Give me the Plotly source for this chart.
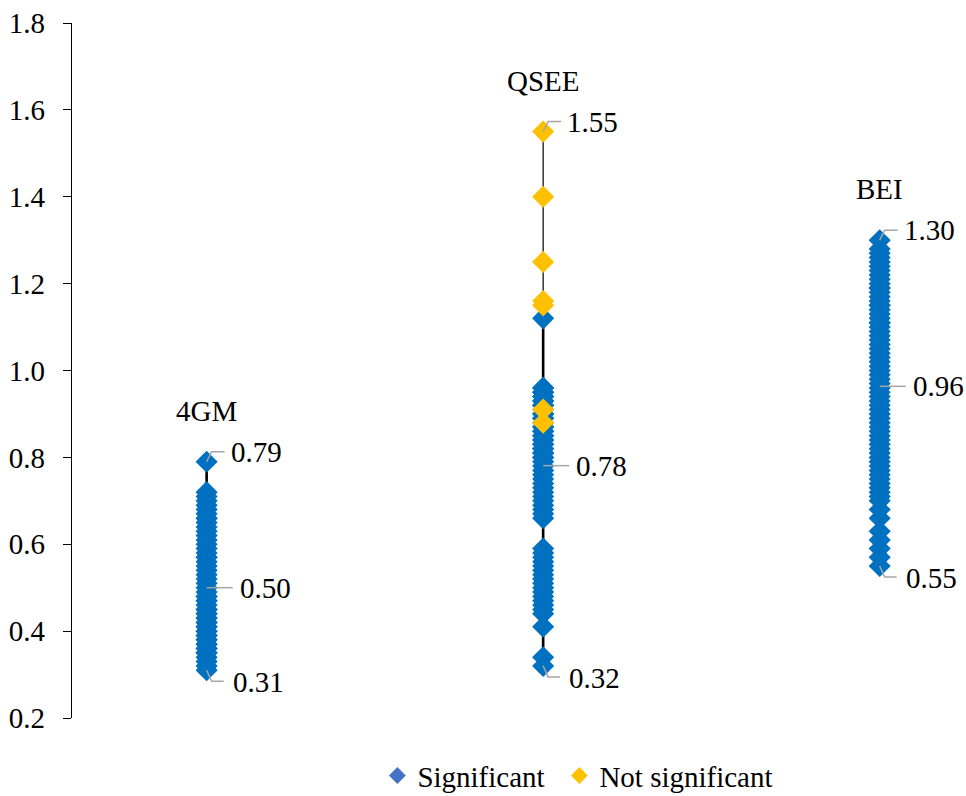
import plotly.graph_objects as go

# Categories and their point values
categories = ["4GM", "QSEE", "BEI"]

gm4_significant = [0.79, 0.72, 0.71, 0.70, 0.69, 0.68, 0.67, 0.66, 0.66, 0.65,
                   0.64, 0.63, 0.62, 0.61, 0.60, 0.59, 0.58, 0.57, 0.57, 0.56,
                   0.55, 0.54, 0.53, 0.52, 0.51, 0.50, 0.49, 0.48, 0.48, 0.47,
                   0.47, 0.46, 0.45, 0.45, 0.44, 0.44, 0.43, 0.43, 0.42, 0.42,
                   0.41, 0.41, 0.40, 0.40, 0.39, 0.39, 0.38, 0.38, 0.37, 0.37,
                   0.36, 0.36, 0.35, 0.35, 0.34, 0.33, 0.32, 0.31]
gm4_not_significant = []

qsee_significant = [1.12, 0.96, 0.96, 0.95, 0.95, 0.94, 0.94, 0.93, 0.93, 0.92,
                    0.92, 0.91, 0.90, 0.90, 0.89, 0.89, 0.88, 0.87, 0.87, 0.86,
                    0.86, 0.85, 0.85, 0.84, 0.84, 0.83, 0.83, 0.82, 0.82, 0.81,
                    0.81, 0.80, 0.80, 0.79, 0.78, 0.77, 0.76, 0.75, 0.74, 0.73,
                    0.72, 0.71, 0.70, 0.69, 0.68, 0.67, 0.66, 0.59, 0.58, 0.57,
                    0.56, 0.55, 0.54, 0.53, 0.52, 0.51, 0.50, 0.49, 0.48, 0.47,
                    0.46, 0.45, 0.44, 0.41, 0.34, 0.32]
qsee_not_significant = [1.55, 1.40, 1.25, 1.16, 1.15, 0.91, 0.88]

bei_significant = [1.30, 1.28, 1.27, 1.26, 1.25, 1.24, 1.23, 1.22, 1.21, 1.20,
                   1.19, 1.19, 1.18, 1.17, 1.16, 1.15, 1.15, 1.14, 1.13, 1.12,
                   1.11, 1.11, 1.10, 1.09, 1.08, 1.07, 1.06, 1.05, 1.04, 1.03,
                   1.02, 1.01, 1.00, 0.99, 0.98, 0.97, 0.96, 0.95, 0.94, 0.93,
                   0.92, 0.91, 0.90, 0.89, 0.88, 0.87, 0.86, 0.85, 0.84, 0.83,
                   0.82, 0.81, 0.80, 0.79, 0.78, 0.77, 0.76, 0.75, 0.74, 0.73,
                   0.72, 0.71, 0.70, 0.68, 0.66, 0.63, 0.61, 0.59, 0.57, 0.55]
bei_not_significant = []

y_ticks = [0.2, 0.4, 0.6, 0.8, 1.0, 1.2, 1.4, 1.6, 1.8]

significant = [gm4_significant, qsee_significant, bei_significant]
not_significant = [gm4_not_significant, qsee_not_significant, bei_not_significant]

SIG_COLOR = "#0070C0"
NS_COLOR = "#FFC000"
LEADER = "#A6A6A6"
FONT = "Liberation Serif"
FS = 29
MSIZE = 17

fig = go.Figure()

# High-low lines: thin over the full range, heavier over the significant range
for i, (sig, ns) in enumerate(zip(significant, not_significant)):
    xpos = i + 1
    allv = sig + ns
    fig.add_trace(go.Scatter(x=[xpos, xpos], y=[min(allv), max(allv)], mode="lines",
                             line=dict(color="black", width=1.2),
                             showlegend=False, hoverinfo="skip"))
    fig.add_trace(go.Scatter(x=[xpos, xpos], y=[min(sig), max(sig)], mode="lines",
                             line=dict(color="black", width=2.6),
                             showlegend=False, hoverinfo="skip"))

# Point markers
sig_x, sig_y, ns_x, ns_y = [], [], [], []
for i, (sig, ns) in enumerate(zip(significant, not_significant)):
    sig_x += [i + 1] * len(sig)
    sig_y += sig
    ns_x += [i + 1] * len(ns)
    ns_y += ns

fig.add_trace(go.Scatter(x=sig_x, y=sig_y, mode="markers",
                         marker=dict(symbol="diamond", size=MSIZE, color=SIG_COLOR,
                                     line=dict(width=0)),
                         showlegend=False))
fig.add_trace(go.Scatter(x=ns_x, y=ns_y, mode="markers",
                         marker=dict(symbol="diamond", size=MSIZE, color=NS_COLOR,
                                     line=dict(width=0)),
                         showlegend=False))

# Legend entries, one legend box each so both can be placed independently
fig.add_trace(go.Scatter(x=[None], y=[None], mode="markers", name="Significant",
                         legend="legend",
                         marker=dict(symbol="diamond", size=13, color="#4472C4")))
fig.add_trace(go.Scatter(x=[None], y=[None], mode="markers", name="Not significant",
                         legend="legend2",
                         marker=dict(symbol="diamond", size=13, color=NS_COLOR)))

# Max / mean / min labels with leader lines, and the category name above each column
annotations = []
shapes = []
for i, (sig, ns) in enumerate(zip(significant, not_significant)):
    xpos = i + 1
    allv = sig + ns
    vmax, vmin = max(allv), min(allv)
    vmean = sum(allv) / len(allv)
    for val, path, dx, dy in [
        (vmax, "M0,0 L5,10 L18,10", 22, 10),
        (vmean, "M0,0 L26,0", 31, 0),
        (vmin, "M0,0 L5,-11 L17,-11", 24, -12),
    ]:
        shapes.append(dict(type="path", xref="x", yref="y",
                           xsizemode="pixel", ysizemode="pixel",
                           xanchor=xpos, yanchor=val, path=path,
                           line=dict(color=LEADER, width=1.5)))
        annotations.append(dict(x=xpos, y=val, xref="x", yref="y",
                                text=f"{val:.2f}", showarrow=False,
                                xanchor="left", yanchor="middle",
                                xshift=dx, yshift=dy,
                                font=dict(family=FONT, size=FS, color="black")))
    annotations.append(dict(x=xpos, y=vmax, xref="x", yref="y", text=categories[i],
                            showarrow=False, xanchor="center", yanchor="middle",
                            yshift=51, font=dict(family=FONT, size=FS, color="black")))

legend_style = dict(orientation="h", xanchor="left", y=-0.083, yanchor="middle",
                    font=dict(family=FONT, size=FS, color="black"),
                    bgcolor="rgba(0,0,0,0)")

fig.update_layout(
    width=966, height=796,
    margin=dict(l=72, r=19, t=23, b=78, autoexpand=False),
    paper_bgcolor="white", plot_bgcolor="white",
    font=dict(family=FONT, size=FS, color="black"),
    xaxis=dict(range=[0.6, 3.2], visible=False, fixedrange=True),
    yaxis=dict(range=[0.2, 1.8], tickvals=y_ticks,
               ticktext=[f"{t:.1f}" for t in y_ticks],
               showgrid=False, zeroline=False, showline=True,
               linecolor="black", linewidth=1.3, ticks="outside",
               ticklen=8, tickwidth=1.3, tickcolor="black",
               ticklabelstandoff=12,
               tickfont=dict(family=FONT, size=FS, color="black")),
    legend=dict(x=0.349, **legend_style),
    legend2=dict(x=0.557, **legend_style),
    annotations=annotations,
    shapes=shapes,
    showlegend=True,
)

fig.write_html("out.html")
